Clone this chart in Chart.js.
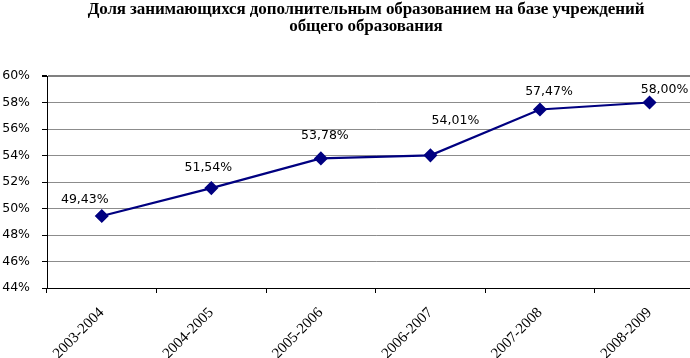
<!DOCTYPE html>
<html>
<head>
<meta charset="utf-8">
<script src="https://cdn.jsdelivr.net/npm/chart.js@4/dist/chart.umd.min.js"></script>
<style>
  html, body { margin: 0; padding: 0; background: #fff; }
  #wrap { position: relative; width: 690px; height: 358px; overflow: hidden; }
  #title { position: absolute; left: 0; top: 0; width: 732px; text-align: center;
           font-family: "Liberation Serif", serif; font-weight: bold; font-size: 17px;
           line-height: 17px; color: #000; letter-spacing: -0.1px; }
  canvas { position: absolute; left: 0; top: 0; }
</style>
</head>
<body>
<div id="wrap">
  <canvas id="c" width="712" height="358"></canvas>
  <div id="title">Доля занимающихся дополнительным образованием на базе учреждений<br>общего образования</div>
</div>
<script>
const categories = ["2003-2004", "2004-2005", "2005-2006", "2006-2007", "2007-2008", "2008-2009"];
const shareValues = [49.43, 51.54, 53.78, 54.01, 57.47, 58.00];
const yTicks = [44, 46, 48, 50, 52, 54, 56, 58, 60];
// manual label placement offsets (px) as in the original
const labelOffsets = [[-17, -16], [-3, -20], [4, -23], [25, -35], [9, -18], [15, -13]];

const fmt = v => v.toFixed(2).replace('.', ',') + '%';

const dataLabels = {
  id: 'dataLabels',
  afterDatasetsDraw(chart) {
    const ctx = chart.ctx;
    const meta = chart.getDatasetMeta(0);
    ctx.save();
    ctx.font = '12.5px "DejaVu Sans"';
    ctx.fillStyle = '#000';
    ctx.textAlign = 'center';
    ctx.textBaseline = 'middle';
    meta.data.forEach((pt, i) => {
      const o = labelOffsets[i];
      ctx.fillText(fmt(shareValues[i]), pt.x + o[0], pt.y + o[1]);
    });
    ctx.restore();
  }
};

new Chart(document.getElementById('c'), {
  type: 'line',
  data: {
    labels: categories,
    datasets: [{
      data: shareValues,
      borderColor: '#000080',
      backgroundColor: '#000080',
      borderWidth: 2.2,
      pointStyle: 'rectRot',
      pointRadius: 5.5,
      pointBackgroundColor: '#000080',
      pointBorderColor: '#000080',
      tension: 0,
      fill: false
    }]
  },
  options: {
    responsive: false,
    animation: false,
    events: [],
    layout: { padding: { top: 76, left: 0, right: 5, bottom: 0 } },
    plugins: { legend: { display: false }, title: { display: false }, tooltip: { enabled: false } },
    scales: {
      x: {
        offset: true,
        afterFit: s => { s.height = 70; },
        grid: { drawOnChartArea: false, drawTicks: true, tickLength: 5, tickColor: '#000', offset: true },
        border: { color: '#000', width: 1 },
        ticks: {
          font: { family: '"Liberation Serif"', size: 15 },
          color: '#000', minRotation: 45, maxRotation: 45, padding: 11, autoSkip: false
        }
      },
      y: {
        min: 44, max: 60,
        afterFit: s => { s.width = 47; },
        afterBuildTicks: s => { s.ticks = yTicks.map(v => ({ value: v })); },
        grid: {
          color: c => (c.tick && c.tick.value === 60) ? '#808080' : '#8c8c8c',
          lineWidth: c => (c.tick && c.tick.value === 60) ? 2 : 1,
          tickLength: 5, tickColor: '#000'
        },
        border: { color: '#000', width: 1 },
        ticks: {
          font: { family: '"DejaVu Sans"', size: 12.5 },
          color: '#000', padding: 12,
          callback: v => v + '%'
        }
      }
    }
  },
  plugins: [dataLabels]
});
</script>
</body>
</html>
